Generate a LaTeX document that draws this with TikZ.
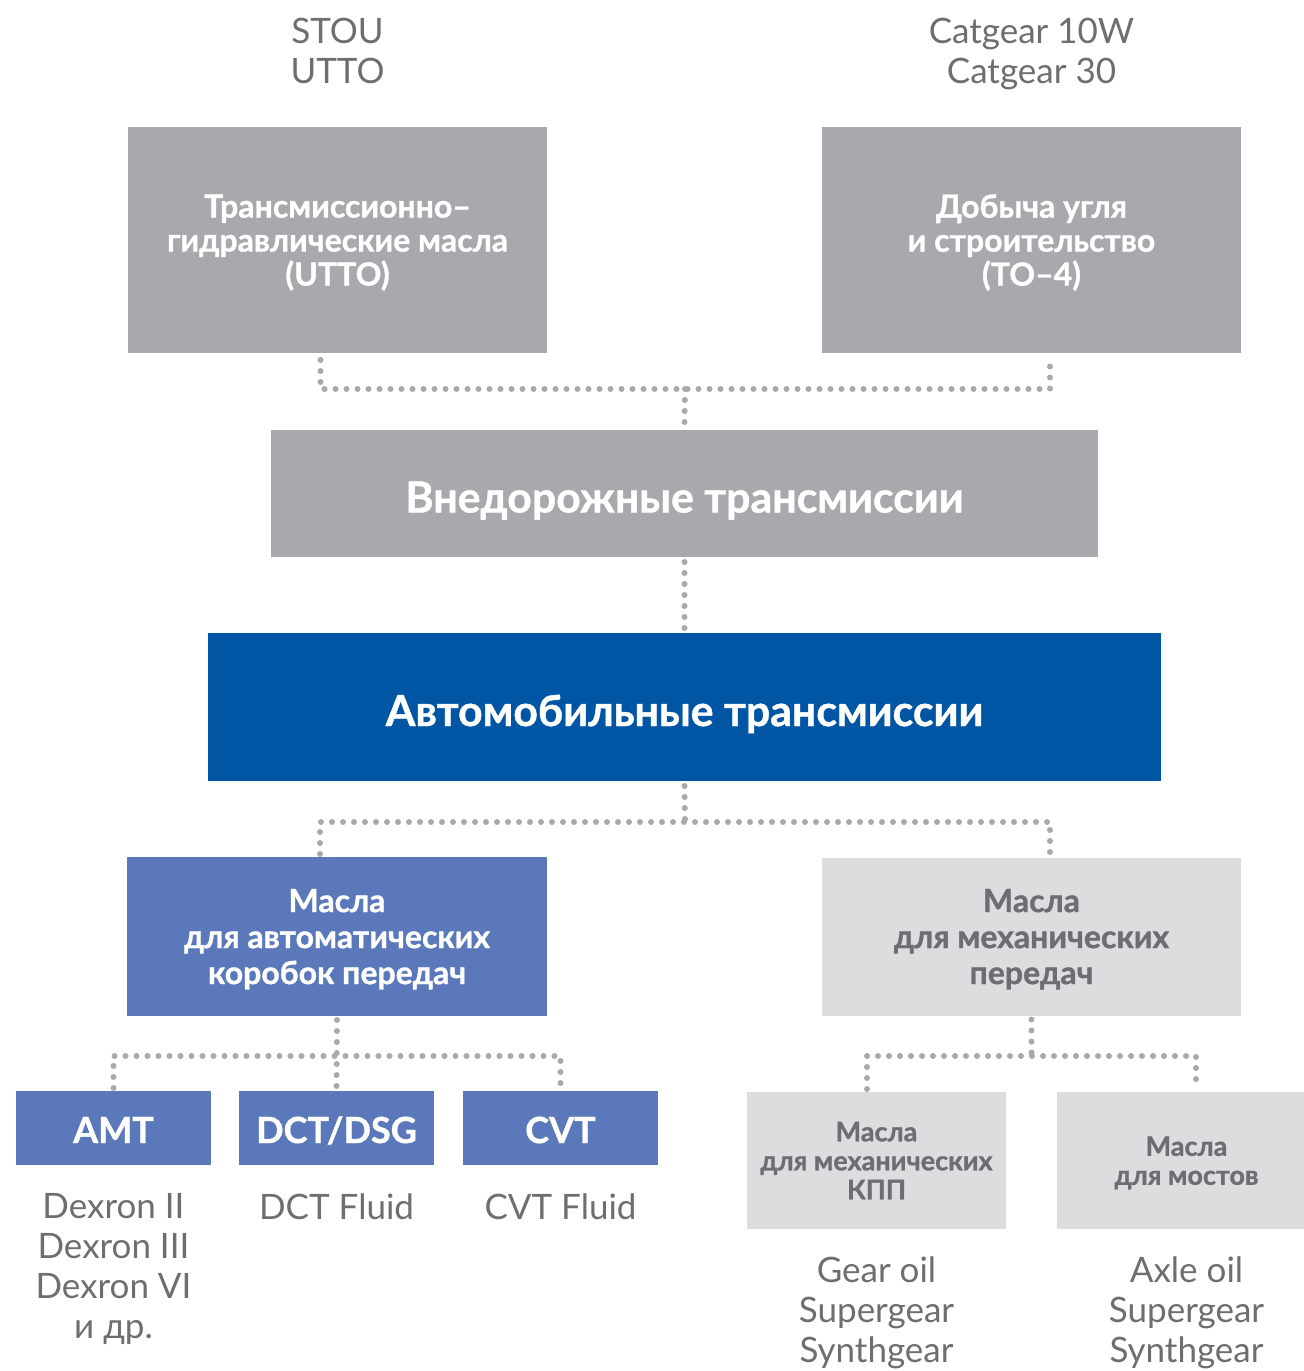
\documentclass[tikz,border=0pt]{standalone}
\usepackage{fontspec}
\setmainfont{Lato}[BoldFeatures={FakeBold=1}]
\usetikzlibrary{positioning}
\definecolor{boxgray}{HTML}{A7A9AC}
\definecolor{autoblue}{HTML}{0055A4}
\definecolor{atfblue}{HTML}{5B79BA}
\definecolor{palegray}{HTML}{DCDDDE}
\definecolor{textgray}{HTML}{6D6E71}
\tikzset{
  box/.style={rectangle, inner sep=0pt, outer sep=0pt, align=center},
  graybox/.style={box, fill=boxgray, text=white, minimum width=209.5pt, minimum height=113pt, text depth=-1pt, font=\bfseries\fontsize{16}{17}\selectfont},
  offbox/.style={box, fill=boxgray, text=white, minimum width=413.5pt, minimum height=63.5pt, text height=19pt, text depth=0pt, font=\bfseries\fontsize{21.4}{26}\selectfont},
  autobox/.style={box, fill=autoblue, text=white, minimum width=476.5pt, minimum height=74pt, text height=19pt, text depth=0pt, font=\bfseries\fontsize{21.4}{26}\selectfont},
  atfbox/.style={box, fill=atfblue, text=white, minimum width=210pt, minimum height=79.5pt, text depth=-1.5pt, font=\bfseries\fontsize{16}{18}\selectfont},
  mtfbox/.style={box, fill=palegray, text=textgray, minimum width=209.5pt, minimum height=79pt, text depth=-1.5pt, font=\bfseries\fontsize{16}{18}\selectfont},
  smallblue/.style={box, fill=atfblue, text=white, minimum width=97.5pt, minimum height=37pt, text height=15pt, text depth=0pt, font=\bfseries\fontsize{18}{20}\selectfont},
  smallgray/.style={box, fill=palegray, text=textgray, minimum width=129.5pt, minimum height=68.5pt, text depth=-2pt, font=\bfseries\fontsize{13.5}{14.5}\selectfont},
  grade/.style={inner sep=0pt, align=center, text=textgray, font=\fontsize{17.5}{20}\selectfont},
  dotline/.style={draw=boxgray, line width=3pt, line cap=round, dash pattern=on 0pt off 5.5pt}
}
\begin{document}
\begin{tikzpicture}[x=0.5pt, y=-0.5pt, node distance=14pt and 14pt]
    \useasboundingbox (0,0) rectangle (1304,1371);
    % off-road oils
    \node[graybox] (utto) at (337.5,240) {Трансмиссионно–\\гидравлические масла\\(UTTO)};
    \node[graybox] (tofour)[right = 137.5pt of utto] {Добыча угля\\и строительство\\(TO–4)};
    \node[grade, anchor=north] (stou) at (337.5,18) {STOU\\UTTO};
    \node[grade, anchor=north] (catgear) at (1031.5,18) {Catgear 10W\\Catgear 30};
    \node[offbox] (offroad) at (684.5,493.5) {Внедорожные трансмиссии};
    \node[autobox] (autotr) at (684.5,707) {Автомобильные трансмиссии};
    % second level
    \node[atfbox] (atf) at (337,936.5) {Масла\\для автоматических\\коробок передач};
    \node[mtfbox] (manual)[right = 137.5pt of atf] {Масла\\для механических\\передач};
    \node[smallblue] (amt) at (113.5,1128) {AMT};
    \node[smallblue] (dct)[right = 14pt of amt] {DCT/DSG};
    \node[smallblue] (cvt)[right = 14.5pt of dct] {CVT};
    \node[smallgray] (gearbox) at (876.5,1160.5) {Масла\\для механических\\КПП};
    \node[smallgray] (axle)[right = 25.5pt of gearbox] {Масла\\для мостов};
    % products
    \node[grade, below = 14pt of amt] (dexron) {Dexron II\\Dexron III\\Dexron VI\\и др.};
    \node[grade, below = 14pt of dct] (dctfluid) {DCT Fluid};
    \node[grade, below = 14pt of cvt] (cvtfluid) {CVT Fluid};
    \node[grade, below = 13.5pt of gearbox] (gearoil) {Gear oil\\Supergear\\Synthgear};
    \node[grade, below = 13.5pt of axle] (axleoil) {Axle oil\\Supergear\\Synthgear};
    % dotted links
    \coordinate (topbus) at (685,389);
    \coordinate (midbus) at (685,822);
    \coordinate (lowrow) at (0,1056);
    \coordinate (uttodrop) at ([xshift=-8.5pt, yshift=-3.5pt]utto.south);
    \coordinate (tofourdrop) at ([xshift=9.25pt, yshift=-3.5pt]tofour.south);
    \coordinate (atfdrop) at ([xshift=-8.5pt, yshift=1.5pt]atf.north);
    \coordinate (manualdrop) at ([xshift=9.25pt, yshift=1.5pt]manual.north);
    \coordinate (geardrop) at ([xshift=-4.75pt, yshift=1.5pt]gearbox.north);
    \coordinate (axledrop) at ([xshift=4.75pt, yshift=1.5pt]axle.north);
    \draw[dotline] (uttodrop) |- (topbus) -| (tofourdrop);
    \draw[dotline] (topbus) -- ([yshift=2.5pt]offroad.north);
    \draw[dotline] ([yshift=-2.5pt]offroad.south) -- ([yshift=2.5pt]autotr.north);
    \draw[dotline] ([yshift=-2.5pt]autotr.south) -- (midbus);
    \draw[dotline] (atfdrop) |- (midbus) -| (manualdrop);
    \draw[dotline] ([yshift=-2pt]atf.south) -- ([yshift=1.5pt]dct.north);
    \draw[dotline] ([yshift=1.5pt]amt.north) |- (cvt.north |- lowrow) -- ([yshift=1.5pt]cvt.north);
    \draw[dotline] ([yshift=-2pt]manual.south) -- (manual.south |- lowrow);
    \draw[dotline] (geardrop) |- (axledrop |- lowrow) -- (axledrop);
\end{tikzpicture}
\end{document}
